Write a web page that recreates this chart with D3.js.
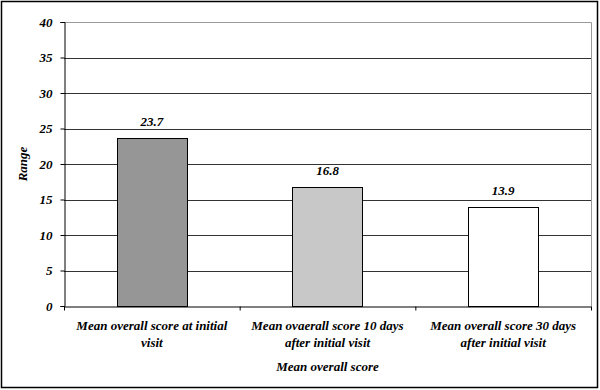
<!DOCTYPE html>
<html lang="en">
<head>
  <meta charset="UTF-8" />
  <title>Mean overall score</title>
  <script src="https://d3js.org/d3.v7.min.js"></script>
  <style>
    body { margin: 0; background: #fff; }
    svg { display: block; }
    text {
      font-family: "Liberation Serif", "Times New Roman", serif;
      font-weight: bold;
      font-style: italic;
      font-size: 13px;
      fill: #000;
    }
    .grid line { stroke: #333; stroke-width: 1px; }
  </style>
</head>
<body>
  <svg width="600" height="390"></svg>
  <script>
    // chart data
    const categories = [
      ["Mean overall score at initial", "visit"],
      ["Mean ovaerall score 10 days", "after initial visit"],
      ["Mean overall score 30 days", "after initial visit"]
    ];
    const values = [23.7, 16.8, 13.9];
    const barColors = ["#969696", "#c8c8c8", "#ffffff"];
    const yTicks = [0, 5, 10, 15, 20, 25, 30, 35, 40];

    const svg = d3.select("svg");
    const mLeft = 64, mRight = 591, mTop = 22, mBottom = 306;

    // outer frame
    svg.append("rect")
      .attr("x", 1.5).attr("y", 1.5)
      .attr("width", 596).attr("height", 386)
      .attr("fill", "none").attr("stroke", "#000").attr("stroke-width", 1.5);

    const x = d3.scaleBand()
      .domain(d3.range(categories.length))
      .range([mLeft, mRight])
      .paddingInner(0).paddingOuter(0);
    const y = d3.scaleLinear().domain([0, 40]).range([mBottom, mTop]);

    // gridlines
    svg.append("g").attr("class", "grid")
      .selectAll("line")
      .data(yTicks.filter(d => d > 0 && d < 40))
      .join("line")
      .attr("x1", mLeft).attr("x2", mRight)
      .attr("y1", d => Math.round(y(d)) + 0.5)
      .attr("y2", d => Math.round(y(d)) + 0.5);

    // plot border (top and right, gray)
    svg.append("path")
      .attr("d", `M${mLeft},${mTop + 0.5}H${mRight + 0.5}V${mBottom}`)
      .attr("fill", "none").attr("stroke", "#999").attr("stroke-width", 1);

    // bars
    const bw = x.bandwidth() * 0.4;
    svg.append("g")
      .selectAll("rect")
      .data(values)
      .join("rect")
      .attr("x", (d, i) => Math.round(x(i) + (x.bandwidth() - bw) / 2) + 0.5)
      .attr("y", d => Math.round(y(d)) + 0.5)
      .attr("width", Math.round(bw))
      .attr("height", d => Math.round(mBottom - y(d)))
      .attr("fill", (d, i) => barColors[i])
      .attr("stroke", "#000").attr("stroke-width", 1);

    // value labels
    svg.append("g")
      .selectAll("text")
      .data(values)
      .join("text")
      .attr("x", (d, i) => x(i) + x.bandwidth() / 2)
      .attr("y", d => y(d) - 12)
      .attr("text-anchor", "middle")
      .text(d => d.toFixed(1));

    // y axis
    const yAxis = svg.append("g")
      .attr("transform", `translate(${mLeft + 0.5},0)`)
      .call(d3.axisLeft(y).tickValues(yTicks).tickSize(4).tickPadding(8));
    yAxis.selectAll("path, line").attr("stroke", "#000");
    yAxis.attr("font-size", null).attr("font-family", null);

    // x axis
    const xLin = d3.scaleLinear().domain([0, 3]).range([mLeft, mRight]);
    const xAxis = svg.append("g")
      .attr("transform", `translate(0,${mBottom + 0.5})`)
      .call(d3.axisBottom(xLin).tickValues([0, 1, 2, 3]).tickSize(4).tickSizeOuter(0).tickFormat(""));
    xAxis.selectAll("path, line").attr("stroke", "#000");

    // category labels
    const cat = svg.append("g")
      .selectAll("text")
      .data(categories)
      .join("text")
      .attr("text-anchor", "middle")
      .attr("transform", (d, i) => `translate(${x(i) + x.bandwidth() / 2},330)`);
    cat.selectAll("tspan")
      .data(d => d)
      .join("tspan")
      .attr("x", 0)
      .attr("dy", (d, j) => j === 0 ? 0 : 17)
      .text(d => d);

    // axis titles
    svg.append("text")
      .attr("x", (mLeft + mRight) / 2).attr("y", 371)
      .attr("text-anchor", "middle")
      .text("Mean overall score");
    svg.append("text")
      .attr("transform", "translate(27,164) rotate(-90)")
      .attr("text-anchor", "middle")
      .text("Range");
  </script>
</body>
</html>
